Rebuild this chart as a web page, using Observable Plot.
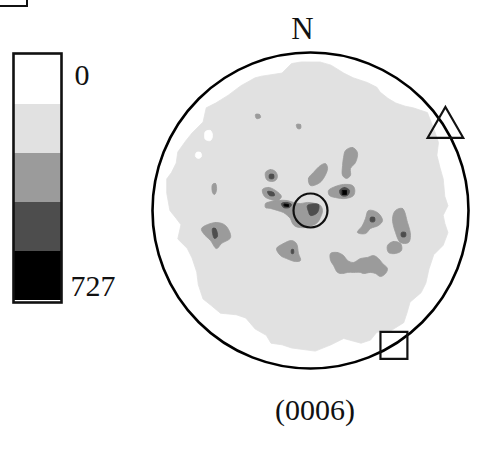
<!DOCTYPE html>
<html><head><meta charset="utf-8">
<script src="https://cdn.jsdelivr.net/npm/d3@7"></script>
<script src="https://cdn.jsdelivr.net/npm/@observablehq/plot@0.6"></script>
<style>
body{margin:0;background:#fff;}
#fig{position:relative;width:481px;height:456px;overflow:hidden;font-family:"Liberation Serif","Times New Roman",serif;}
#fig > *{position:absolute;left:0;top:0;}
#corner{left:-3px !important;top:-3px !important;width:29px;height:8px;border-right:2px solid #111;border-bottom:2px solid #111;}
#caption{left:215px !important;top:395px !important;width:200px;text-align:center;font-size:30px;line-height:30px;color:#111;}
</style></head>
<body>
<div id="fig"><div id="corner"></div><div id="caption"></div></div>
<script>
// ---- colour bar ----
const levels = ["L0","L1","L2","L3","L4"];
const tickLabels = ["0", "727"];
const captionText = "(0006)";
const northLabel = "N";

// ---- pole figure contours, unit-disk coordinates (x right, y up) ----
const outerContour = [[0,0.94],[0.06,0.94],[0.13,0.92],[0.21,0.87],[0.27,0.84],[0.36,0.81],[0.42,0.78],[0.44,0.75],[0.49,0.71],[0.54,0.68],[0.60,0.66],[0.65,0.65],[0.74,0.62],[0.79,0.49],[0.81,0.43],[0.80,0.35],[0.82,0.27],[0.84,0.20],[0.85,0.09],[0.87,0.03],[0.84,-0.03],[0.85,-0.08],[0.87,-0.14],[0.84,-0.22],[0.78,-0.28],[0.75,-0.37],[0.73,-0.46],[0.70,-0.52],[0.63,-0.58],[0.61,-0.65],[0.59,-0.71],[0.51,-0.76],[0.42,-0.77],[0.38,-0.82],[0.32,-0.84],[0.21,-0.81],[0.13,-0.85],[0.03,-0.89],[-0.12,-0.87],[-0.18,-0.85],[-0.25,-0.84],[-0.28,-0.79],[-0.35,-0.75],[-0.41,-0.68],[-0.47,-0.66],[-0.57,-0.65],[-0.63,-0.60],[-0.68,-0.56],[-0.71,-0.47],[-0.72,-0.39],[-0.75,-0.30],[-0.78,-0.24],[-0.84,-0.18],[-0.82,-0.09],[-0.85,-0.05],[-0.89,0.00],[-0.91,0.11],[-0.91,0.20],[-0.88,0.24],[-0.85,0.30],[-0.84,0.37],[-0.79,0.44],[-0.75,0.49],[-0.68,0.56],[-0.66,0.65],[-0.60,0.68],[-0.52,0.73],[-0.44,0.79],[-0.35,0.84],[-0.31,0.85],[-0.18,0.87],[-0.12,0.93],[-0.06,0.94]];

const hole1 = [[-0.665,0.500],[-0.633,0.506],[-0.620,0.475],[-0.633,0.443],[-0.665,0.449],[-0.671,0.475]];
const hole2 = [[-0.722,0.367],[-0.696,0.367],[-0.690,0.342],[-0.709,0.329],[-0.728,0.342]];

const blobA = [[-0.348,0.608],[-0.323,0.608],[-0.316,0.589],[-0.342,0.582]];
const blobB = [[-0.089,0.544],[-0.063,0.544],[-0.063,0.519],[-0.082,0.519]];
const blobC = [[-0.285,0.241],[-0.253,0.259],[-0.222,0.247],[-0.209,0.215],[-0.222,0.190],[-0.253,0.184],[-0.278,0.196]];
const blobD = [[-0.620,0.165],[-0.601,0.171],[-0.595,0.127],[-0.608,0.101],[-0.620,0.114]];
const blobE = [[-0.304,0.133],[-0.266,0.146],[-0.222,0.127],[-0.184,0.089],[-0.209,0.063],[-0.253,0.070],[-0.291,0.089]];
const blobF = [[-0.285,0.044],[-0.272,0.051],[-0.209,0.063],[-0.146,0.063],[-0.108,0.051],[-0.063,0.044],[-0.019,0.051],[0.032,0.044],[0.063,0.032],[0.076,0.000],[0.063,-0.044],[0.044,-0.076],[0.013,-0.095],[-0.032,-0.108],[-0.063,-0.108],[-0.095,-0.101],[-0.114,-0.082],[-0.127,-0.051],[-0.146,-0.032],[-0.171,-0.013],[-0.209,0.000],[-0.253,0.013],[-0.285,0.019]];
const blobG = [[0.000,0.158],[-0.013,0.203],[0.019,0.241],[0.063,0.285],[0.095,0.297],[0.108,0.266],[0.082,0.203],[0.051,0.171]];
const blobH = [[0.222,0.380],[0.266,0.399],[0.297,0.367],[0.285,0.304],[0.253,0.266],[0.253,0.222],[0.228,0.203],[0.203,0.222],[0.203,0.285],[0.209,0.335]];
const blobI = [[0.114,0.127],[0.158,0.152],[0.209,0.165],[0.266,0.158],[0.280,0.133],[0.272,0.095],[0.222,0.076],[0.158,0.082],[0.120,0.095]];
const blobJ = [[0.297,-0.139],[0.329,-0.095],[0.348,-0.051],[0.367,0.000],[0.424,-0.013],[0.456,-0.063],[0.430,-0.095],[0.380,-0.114],[0.348,-0.146]];
const blobK = [[0.538,0.000],[0.582,0.013],[0.614,-0.076],[0.633,-0.158],[0.620,-0.203],[0.570,-0.203],[0.538,-0.139],[0.519,-0.051]];
const blobL = [[0.487,-0.222],[0.525,-0.196],[0.570,-0.209],[0.576,-0.253],[0.538,-0.272],[0.494,-0.266]];
const blobM = [[0.127,-0.272],[0.171,-0.266],[0.209,-0.285],[0.234,-0.316],[0.272,-0.329],[0.316,-0.304],[0.361,-0.297],[0.399,-0.285],[0.430,-0.304],[0.456,-0.335],[0.487,-0.367],[0.475,-0.399],[0.443,-0.418],[0.411,-0.399],[0.380,-0.392],[0.335,-0.399],[0.316,-0.392],[0.272,-0.392],[0.234,-0.392],[0.203,-0.399],[0.171,-0.392],[0.146,-0.348],[0.127,-0.316]];
const blobN = [[-0.690,-0.114],[-0.601,-0.076],[-0.538,-0.095],[-0.506,-0.171],[-0.563,-0.209],[-0.595,-0.241],[-0.633,-0.190],[-0.677,-0.146]];
const blobO = [[-0.215,-0.241],[-0.171,-0.209],[-0.120,-0.190],[-0.089,-0.209],[-0.076,-0.272],[-0.063,-0.316],[-0.095,-0.323],[-0.152,-0.304],[-0.190,-0.285]];

const coreC = [[-0.259,0.228],[-0.234,0.228],[-0.234,0.203],[-0.259,0.203]];
const coreE = [[-0.272,0.120],[-0.234,0.114],[-0.228,0.095],[-0.259,0.095]];
const coreF1 = [[-0.184,0.044],[-0.146,0.051],[-0.120,0.038],[-0.133,0.019],[-0.171,0.019]];
const coreF2 = [[-0.019,0.032],[0.051,0.038],[0.044,-0.013],[0.000,-0.032],[-0.013,-0.006]];
const coreI = [[0.184,0.127],[0.215,0.146],[0.247,0.127],[0.234,0.095],[0.196,0.095]];
const coreJ = [[0.380,-0.044],[0.405,-0.044],[0.405,-0.070],[0.380,-0.070]];
const coreK = [[0.576,-0.139],[0.601,-0.139],[0.601,-0.165],[0.576,-0.165]];
const coreN = [[-0.620,-0.114],[-0.601,-0.114],[-0.589,-0.165],[-0.608,-0.177]];
const coreO = [[-0.120,-0.247],[-0.108,-0.247],[-0.108,-0.272],[-0.120,-0.272]];

const peakF1 = [[-0.165,0.041],[-0.139,0.038],[-0.139,0.025],[-0.165,0.028]];
const peakI = [[0.203,0.127],[0.228,0.127],[0.228,0.101],[0.203,0.101]];

// reference directions marked on the figure
const markerNames = ["circle", "triangle", "square"];
const markerX = [0.00, 0.854, 0.528];
const markerY = [0.00, 0.525, -0.854];

// ---- build tables ----
const toRows = (list) => list.flatMap((pts, id) => pts.map(([x, y]) => ({id, x, y})));
const holes = toRows([hole1, hole2]);
const level2 = toRows([blobA, blobB, blobC, blobD, blobE, blobF, blobG, blobH, blobI, blobJ, blobK, blobL, blobM, blobN, blobO]);
const level3 = toRows([coreC, coreE, coreF1, coreF2, coreI, coreJ, coreK, coreN, coreO]);
const level4 = toRows([peakF1, peakI]);
const outer = outerContour.map(([x, y]) => ({x, y}));
const markers = markerNames.map((symbol, i) => ({symbol, x: markerX[i], y: markerY[i]}));
const markerSize = {circle: 17, triangle: 13.2, square: 15.2};

const grey = {L0: "#ffffff", L1: "#e1e1e1", L2: "#9b9b9b", L3: "#4d4d4d", L4: "#000000"};
const serif = "Liberation Serif, Times New Roman, serif";

const fill = (rows, color, curve) => Plot.line(rows, {x: "x", y: "y", z: "id", fill: color, stroke: color, strokeWidth: 0.8, curve});

const main = Plot.plot({
  width: 481, height: 456, margin: 0,
  style: {background: "transparent", fontFamily: serif},
  x: {domain: [-1, 1], range: [152, 468], axis: null},
  y: {domain: [-1, 1], range: [368, 52], axis: null},
  marks: [
    Plot.line(outer, {x: "x", y: "y", fill: grey.L1, stroke: grey.L1, strokeWidth: 0.8, curve: "linear-closed"}),
    fill(holes, "#ffffff", "catmull-rom-closed"),
    fill(level2, grey.L2, "catmull-rom-closed"),
    fill(level3, grey.L3, "catmull-rom-closed"),
    fill(level4, grey.L4, "linear-closed"),
    Plot.dot([{x: 0, y: 0}], {x: "x", y: "y", r: 158, fill: "none", stroke: "#000", strokeWidth: 2.6}),
    ...markers.map(m => Plot.dot([m], {x: "x", y: "y", symbol: m.symbol, r: markerSize[m.symbol], fill: "none", stroke: "#111", strokeWidth: 2.2})),
    Plot.text([northLabel], {x: () => 0, y: () => 1, text: d => d, dx: -8, dy: -14, lineAnchor: "bottom", fontSize: 31, fontFamily: serif, fill: "#111"})
  ]
});

const bar = Plot.plot({
  width: 130, height: 320, marginLeft: 13, marginRight: 69, marginTop: 53, marginBottom: 18,
  style: {background: "transparent", fontFamily: serif},
  x: {domain: [0, 1], axis: null},
  y: {type: "band", domain: levels, padding: 0, axis: null},
  color: {type: "ordinal", domain: levels, range: levels.map(l => grey[l])},
  marks: [
    Plot.barX(levels, {x1: 0, x2: 1, y: d => d, fill: d => d, inset: 0}),
    Plot.frame({stroke: "#111", strokeWidth: 2.6}),
    Plot.text([tickLabels[0]], {x: () => 1, y: () => levels[0], text: d => d, textAnchor: "start", dx: 13, dy: -5, fontSize: 30, fontFamily: serif, fill: "#111"}),
    Plot.text([tickLabels[1]], {x: () => 1, y: () => levels[levels.length - 1], text: d => d, textAnchor: "start", dx: 9, dy: 10, fontSize: 30, fontFamily: serif, fill: "#111"})
  ]
});

const fig = document.getElementById("fig");
fig.appendChild(main);
fig.appendChild(bar);
document.getElementById("caption").textContent = captionText;
</script>
</body></html>
